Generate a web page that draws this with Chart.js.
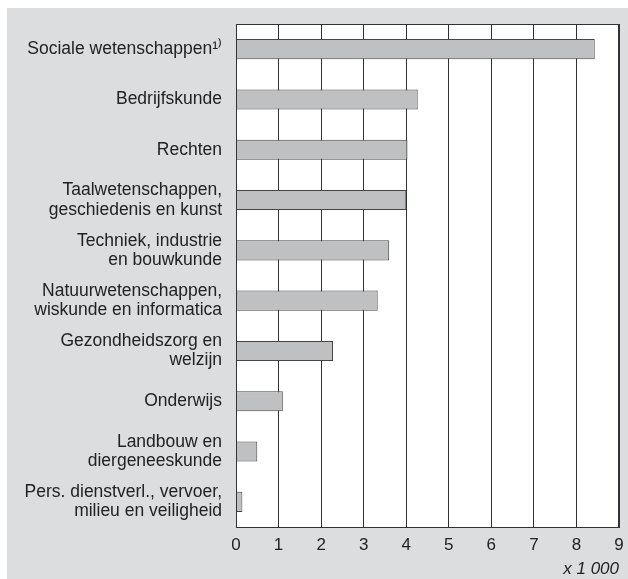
<!DOCTYPE html>
<html>
<head>
<meta charset="utf-8">
<script src="https://cdn.jsdelivr.net/npm/chart.js@4.4.0/dist/chart.umd.min.js"></script>
<style>
  html, body { margin: 0; padding: 0; background: #fff; }
  #wrap { position: absolute; left: 7px; top: 8px; width: 621px; height: 571px; background: #dcdddf; }
</style>
</head>
<body>
<div id="wrap"><canvas id="chart" width="621" height="571"></canvas></div>
<script>
// Studierichtingen, aantal (x 1 000)
const categories = [
    'Sociale wetenschappen\u00b9\u207e',
    ['Bedrijfskunde'],
    ['Rechten'],
    ['Taalwetenschappen,', 'geschiedenis en kunst'],
    ['Techniek, industrie', 'en bouwkunde'],
    ['Natuurwetenschappen,', 'wiskunde en informatica'],
    ['Gezondheidszorg en', 'welzijn'],
    ['Onderwijs'],
    ['Landbouw en', 'diergeneeskunde'],
    ['Pers. dienstverl., vervoer,', 'milieu en veiligheid']
];
const values = [8.43, 4.27, 4.03, 4.0, 3.6, 3.33, 2.28, 1.1, 0.5, 0.15];
const xTicks = [0, 1, 2, 3, 4, 5, 6, 7, 8, 9];
const unitLabel = 'x 1 000';

Chart.defaults.font.family = "'Liberation Sans', Arial, sans-serif";
Chart.defaults.color = '#222';

// frame round the plot area
const frame = {
    id: 'frame',
    afterDraw(chart) {
        const a = chart.chartArea, ctx = chart.ctx;
        ctx.save();
        ctx.strokeStyle = '#333';
        ctx.lineWidth = 1;
        ctx.strokeRect(Math.round(a.left) + 0.5, Math.round(a.top) + 0.5,
            Math.round(a.right - a.left) - 1, Math.round(a.bottom - a.top));
        ctx.restore();
    }
};

const whiteArea = {
    id: 'whiteArea',
    beforeDraw(chart) {
        const a = chart.chartArea, ctx = chart.ctx;
        ctx.save();
        ctx.fillStyle = '#fff';
        ctx.fillRect(a.left, a.top, a.right - a.left, a.bottom - a.top);
        ctx.restore();
    }
};

new Chart(document.getElementById('chart'), {
    type: 'bar',
    data: {
        labels: categories,
        datasets: [{
            data: values,
            backgroundColor: '#bfc0c2',
            borderColor: '#444',
            borderWidth: 1,
            categoryPercentage: 1,
            barPercentage: 0.4
        }]
    },
    options: {
        indexAxis: 'y',
        responsive: false,
        animation: false,
        layout: { padding: { top: 16, right: 9, left: 0, bottom: 0 } },
        plugins: {
            legend: { display: false },
            tooltip: { enabled: false }
        },
        scales: {
            x: {
                min: 0,
                max: 9,
                afterBuildTicks(scale) {
                    scale.ticks = xTicks.map(v => ({ value: v }));
                },
                afterFit(scale) {
                    scale.height = 52;
                    scale.paddingLeft = 0;
                    scale.paddingRight = 0;
                },
                grid: { color: '#333', lineWidth: 1, drawTicks: false },
                border: { color: '#333' },
                ticks: { padding: 8, font: { size: 17 }, color: '#222' },
                title: {
                    display: true,
                    text: unitLabel,
                    align: 'end',
                    padding: { top: 2, bottom: 0 },
                    font: { size: 17, style: 'italic' },
                    color: '#222'
                }
            },
            y: {
                afterFit(scale) {
                    scale.width = 229;
                    scale.paddingTop = 0;
                    scale.paddingBottom = 0;
                },
                grid: { display: false, drawTicks: false },
                border: { color: '#333' },
                ticks: { padding: 14, font: { size: 17.5, lineHeight: 1.1 }, color: '#222' }
            }
        }
    },
    plugins: [whiteArea, frame]
});
</script>
</body>
</html>
